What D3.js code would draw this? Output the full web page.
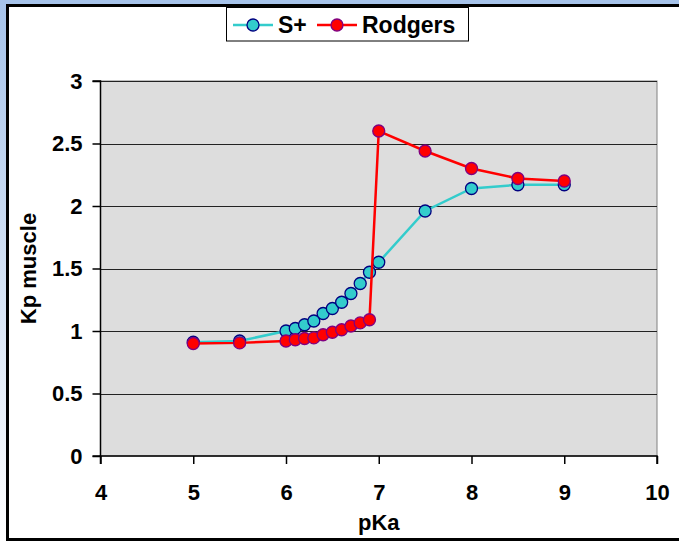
<!DOCTYPE html>
<html>
<head>
<meta charset="utf-8">
<script src="https://cdn.jsdelivr.net/npm/d3@7"></script>
<style>
  html, body { margin: 0; padding: 0; background: #fff; }
  svg { display: block; }
  text { font-family: "Liberation Sans", Arial, sans-serif; font-weight: bold; fill: #000; }
</style>
</head>
<body>
<svg id="chart" width="679" height="542"></svg>
<script>
// Kp muscle vs pKa, two predictions
const pKaSplus = [5, 5.5, 6, 6.1, 6.2, 6.3, 6.4, 6.5, 6.6, 6.7, 6.8, 6.9, 7, 7.5, 8, 8.5, 9];
const kpSplus  = [0.91, 0.92, 1.0, 1.02, 1.05, 1.08, 1.14, 1.18, 1.23, 1.30, 1.38, 1.47, 1.55, 1.96, 2.14, 2.17, 2.17];

const pKaRodgers = [5, 5.5, 6, 6.1, 6.2, 6.3, 6.4, 6.5, 6.6, 6.7, 6.8, 6.9, 7, 7.5, 8, 8.5, 9];
const kpRodgers  = [0.90, 0.905, 0.92, 0.93, 0.94, 0.945, 0.97, 0.99, 1.01, 1.04, 1.065, 1.09, 2.60, 2.44, 2.30, 2.22, 2.20];

const xTicks = [4, 5, 6, 7, 8, 9, 10];
const yTicks = [0, 0.5, 1, 1.5, 2, 2.5, 3];
const seriesNames = ["S+", "Rodgers"];

const svg = d3.select("#chart");
const W = 679, H = 542;
const FONT = "'Liberation Sans', Arial, sans-serif";

// outer frame: blue edge strip, white panel with dark border
const defs = svg.append("defs");
const grad = defs.append("linearGradient").attr("id", "edge").attr("x1", 0).attr("y1", 0).attr("x2", 0).attr("y2", 1);
grad.append("stop").attr("offset", "0").attr("stop-color", "#a6c3ea");
grad.append("stop").attr("offset", "1").attr("stop-color", "#ffffff");
svg.append("rect").attr("x", 0).attr("y", 0).attr("width", W).attr("height", H).attr("fill", "url(#edge)");
svg.append("rect").attr("x", 0).attr("y", 0).attr("width", W).attr("height", 4).attr("fill", "#a6c3ea");
svg.append("rect").attr("x", 7.5).attr("y", 5.5).attr("width", W + 10).attr("height", 534)
  .attr("fill", "#fff").attr("stroke", "#000").attr("stroke-width", 3);

const plotL = 100.5, plotR = 657, plotT = 81, plotB = 456;
const x = d3.scaleLinear().domain([4, 10]).range([plotL, plotR]);
const y = d3.scaleLinear().domain([0, 3]).range([plotB, plotT]);

// plot area
svg.append("rect").attr("x", plotL).attr("y", plotT).attr("width", plotR - plotL).attr("height", plotB - plotT)
  .attr("fill", "#dddddd").attr("stroke", "#808080").attr("stroke-width", 1);

// horizontal gridlines
svg.append("g").selectAll("line").data(yTicks.filter(d => d > 0)).join("line")
  .attr("x1", plotL).attr("x2", plotR)
  .attr("y1", d => Math.round(y(d)) + 0.5).attr("y2", d => Math.round(y(d)) + 0.5)
  .attr("stroke", "#222").attr("stroke-width", 1);

// axes
const yAxis = svg.append("g").attr("transform", `translate(${plotL},0)`)
  .call(d3.axisLeft(y).tickValues(yTicks).tickSize(8).tickPadding(10).tickFormat(d3.format("")));
const xAxis = svg.append("g").attr("transform", `translate(0,${plotB})`)
  .call(d3.axisBottom(x).tickValues(xTicks).tickSize(8).tickPadding(20).tickFormat(d3.format("d")));
[yAxis, xAxis].forEach(g => {
  g.select(".domain").attr("stroke", "#000").attr("stroke-width", 1.5);
  g.selectAll(".tick line").attr("stroke", "#000").attr("stroke-width", 1.5);
  g.selectAll(".tick text").style("font-size", "22px").style("font-weight", "bold")
    .style("font-family", FONT).attr("fill", "#000");
});
xAxis.select(".domain").attr("d", `M${plotL},8V0H${plotR}V8`);
yAxis.select(".domain").attr("d", `M-8,${plotT}H0V${plotB}H-8`);

// axis titles
svg.append("text").attr("x", (plotL + plotR) / 2).attr("y", 530).attr("text-anchor", "middle")
  .style("font-size", "22px").text("pKa");
svg.append("text").attr("transform", `translate(36,${(plotT + plotB) / 2}) rotate(-90)`)
  .attr("text-anchor", "middle").style("font-size", "22px").text("Kp muscle");

const line = d3.line().x(d => x(d[0])).y(d => y(d[1]));

const series = [
  { name: seriesNames[0], data: d3.zip(pKaSplus, kpSplus), line: "#33cccc", fill: "#33cccc", edge: "#000080" },
  { name: seriesNames[1], data: d3.zip(pKaRodgers, kpRodgers), line: "#ff0000", fill: "#ff0000", edge: "#800080" }
];

series.forEach(s => {
  const g = svg.append("g");
  g.append("path").datum(s.data).attr("d", line)
    .attr("fill", "none").attr("stroke", s.line).attr("stroke-width", 2.5);
  g.selectAll("circle").data(s.data).join("circle")
    .attr("cx", d => x(d[0])).attr("cy", d => y(d[1])).attr("r", 6)
    .attr("fill", s.fill).attr("stroke", s.edge).attr("stroke-width", 1.3);
});

// legend
const lg = svg.append("g");
lg.append("rect").attr("x", 226.5).attr("y", 7.5).attr("width", 242).attr("height", 33.5)
  .attr("fill", "#fff").attr("stroke", "#000").attr("stroke-width", 1);
const legendPos = [
  { lx1: 233, lx2: 273, tx: 278 },
  { lx1: 317, lx2: 357, tx: 362 }
];
series.forEach((s, i) => {
  const p = legendPos[i];
  const cy = 25;
  lg.append("line").attr("x1", p.lx1).attr("x2", p.lx2).attr("y1", cy).attr("y2", cy)
    .attr("stroke", s.line).attr("stroke-width", 2.5);
  lg.append("circle").attr("cx", (p.lx1 + p.lx2) / 2).attr("cy", cy).attr("r", 6)
    .attr("fill", s.fill).attr("stroke", s.edge).attr("stroke-width", 1.3);
  lg.append("text").attr("x", p.tx).attr("y", 33).style("font-size", "23px").text(s.name);
});
</script>
</body>
</html>
